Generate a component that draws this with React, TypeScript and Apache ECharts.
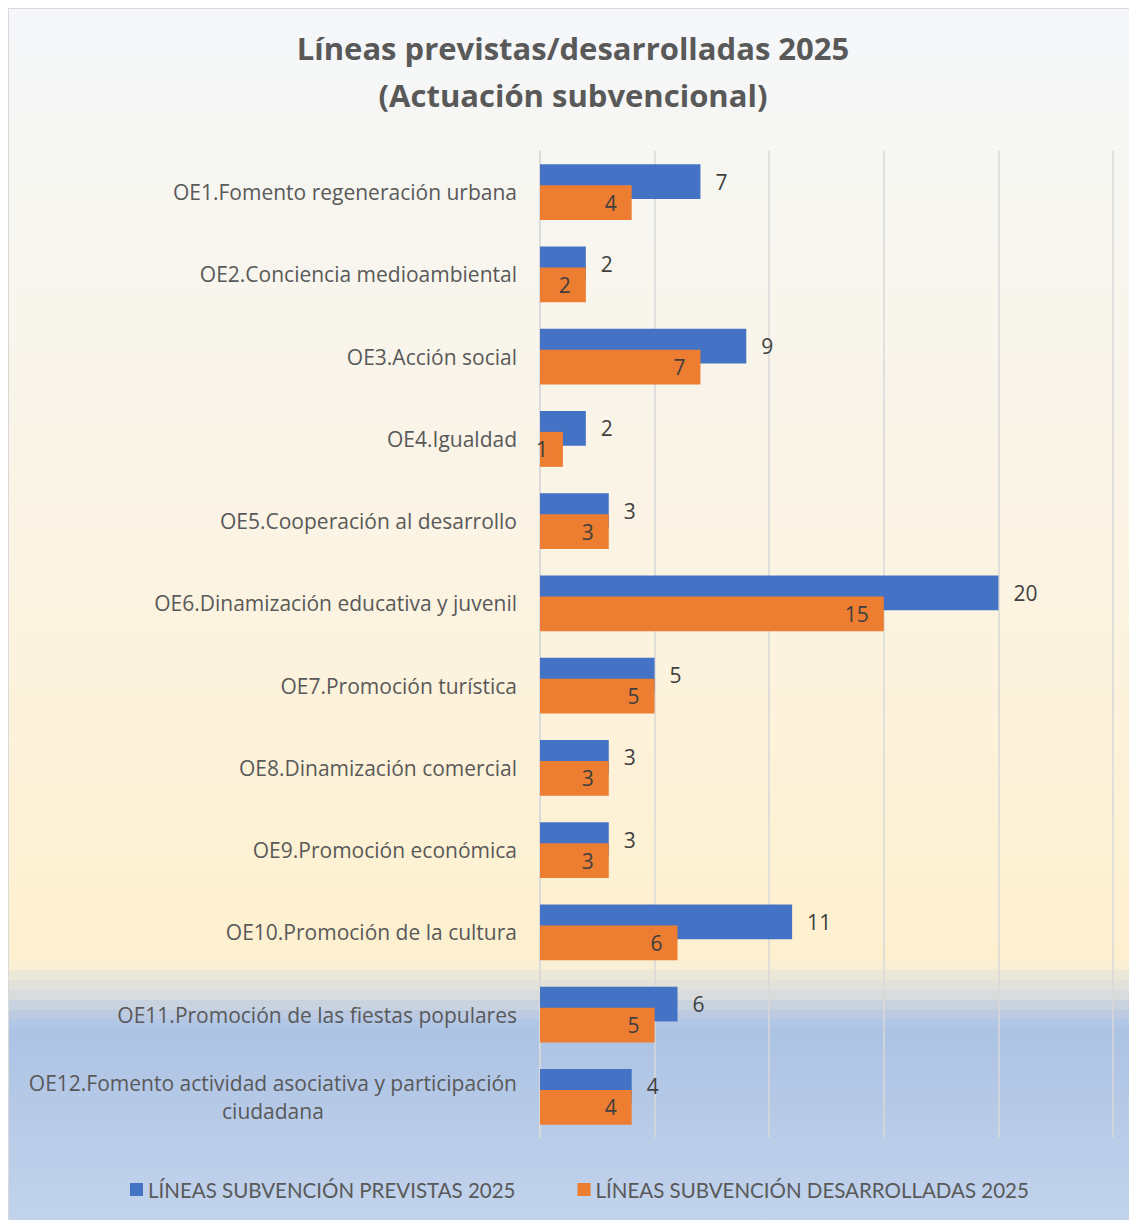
import React, { useEffect, useRef } from "react";
import * as echarts from "echarts";

const categories = [
  "OE1.Fomento regeneración urbana",
  "OE2.Conciencia medioambiental",
  "OE3.Acción social",
  "OE4.Igualdad",
  "OE5.Cooperación al desarrollo",
  "OE6.Dinamización educativa y juvenil",
  "OE7.Promoción turística",
  "OE8.Dinamización comercial",
  "OE9.Promoción económica",
  "OE10.Promoción de la cultura",
  "OE11.Promoción de las fiestas populares",
  "OE12.Fomento actividad asociativa y participación\nciudadana",
];
const previstas = [7, 2, 9, 2, 3, 20, 5, 3, 3, 11, 6, 4];
const desarrolladas = [4, 2, 7, 1, 3, 15, 5, 3, 3, 6, 5, 4];
const seriesNames = [
  "LÍNEAS SUBVENCIÓN PREVISTAS 2025",
  "LÍNEAS SUBVENCIÓN DESARROLLADAS 2025",
];

const FONT = "'Open Sans', sans-serif";
const FONT2 = "Lato, sans-serif";
const LBL = 21;

export default function App() {
  const ref = useRef<HTMLDivElement>(null);
  useEffect(() => {
    if (!ref.current) return;
    const chart = echarts.init(ref.current, null, { renderer: "svg" });
    const H = 1212;
    const s = (y: number) => (y - 8) / H;
    chart.setOption({
      animation: false,
      backgroundColor: {
        type: "linear",
        x: 0,
        y: 0,
        x2: 0,
        y2: 1,
        colorStops: [
          { offset: 0, color: "#f5f7fb" },
          { offset: s(150), color: "#f6f6f2" },
          { offset: s(500), color: "#fbf4e6" },
          { offset: s(900), color: "#fef1d2" },
          { offset: s(960), color: "#fdf0cf" },
          { offset: s(960), color: "#f8efd4" },
          { offset: s(970), color: "#f8efd4" },
          { offset: s(970), color: "#ebe8d8" },
          { offset: s(980), color: "#ebe8d8" },
          { offset: s(980), color: "#e2e2da" },
          { offset: s(990), color: "#e2e2da" },
          { offset: s(990), color: "#d8dcdc" },
          { offset: s(1000), color: "#d8dcdc" },
          { offset: s(1000), color: "#c9d3df" },
          { offset: s(1010), color: "#c9d3df" },
          { offset: s(1010), color: "#bccbe2" },
          { offset: s(1019), color: "#bccbe2" },
          { offset: s(1019), color: "#b2c6e5" },
          { offset: s(1028), color: "#b2c6e5" },
          { offset: s(1028), color: "#adc3e4" },
          { offset: 1, color: "#c2d3ec" },
        ],
      },
      title: {
        text: "Líneas previstas/desarrolladas 2025\n(Actuación subvencional)",
        left: "center",
        top: 10,
        textStyle: {
          fontFamily: FONT,
          fontSize: 31,
          fontWeight: "bold",
          color: "#595959",
          lineHeight: 47,
        },
      },
      legend: {
        bottom: 15,
        left: 116,
        itemWidth: 13,
        itemHeight: 13,
        itemGap: 62,
        icon: "rect",
        textStyle: { fontFamily: FONT2, fontSize: 20.5, color: "#595959" },
        data: seriesNames,
      },
      grid: { left: 531, right: 24, top: 142, bottom: 82 },
      xAxis: {
        type: "value",
        min: 0,
        max: 25,
        interval: 5,
        axisLabel: { show: false },
        axisLine: { show: false },
        axisTick: { show: false },
        splitLine: { lineStyle: { color: "#d9d9d9", width: 1.5 } },
      },
      yAxis: {
        type: "category",
        inverse: true,
        data: categories,
        axisTick: { show: false },
        axisLine: { lineStyle: { color: "#d9d9d9", width: 1.5 } },
        axisLabel: {
          margin: 23,
          fontFamily: FONT,
          fontSize: LBL,
          color: "#595959",
          lineHeight: 28,
          formatter: (v: string) => {
            const parts = v.split("\n");
            if (parts.length === 1) return "{a|" + v + "}";
            return "{a|" + parts[0] + "}\n{c|" + parts[1] + "}";
          },
          rich: {
            a: { fontFamily: FONT, fontSize: LBL, color: "#595959", lineHeight: 28 },
            c: { fontFamily: FONT, fontSize: LBL, color: "#595959", lineHeight: 28, align: "center" },
          },
        },
      },
      series: [
        {
          name: seriesNames[0],
          type: "bar",
          data: previstas,
          barGap: "-40%",
          barCategoryGap: "32%",
          itemStyle: { color: "#4472c4" },
          label: {
            show: true,
            position: "right",
            distance: 15,
            fontFamily: FONT,
            fontSize: LBL,
            color: "#404040",
          },
        },
        {
          name: seriesNames[1],
          type: "bar",
          data: desarrolladas,
          barGap: "-40%",
          barCategoryGap: "32%",
          itemStyle: { color: "#ed7d31" },
          label: {
            show: true,
            position: "insideRight",
            distance: 15,
            fontFamily: FONT,
            fontSize: LBL,
            color: "#404040",
          },
        },
      ],
    });
    return () => chart.dispose();
  }, []);
  return (
    <div
      style={{
        width: 1129,
        height: 1212,
        boxSizing: "border-box",
        borderTop: "1px solid #d9d9d9",
        borderLeft: "1px solid #d9d9d9",
      }}
    >
      <div ref={ref} style={{ width: 1128, height: 1211 }} />
    </div>
  );
}
